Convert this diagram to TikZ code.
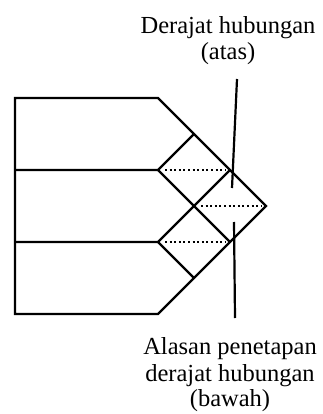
\documentclass[tikz,border=0pt]{standalone}
\usepackage{fontspec}
\setmainfont{Liberation Serif}
\begin{document}
\begin{tikzpicture}[x=1pt,y=-1pt,
  edge/.style={line width=2.2pt,line join=miter,line cap=butt},
  dotline/.style={line width=2pt,dash pattern=on 2pt off 2.6pt,shorten <=7pt,shorten >=5pt},
  pointer/.style={line width=2.2pt},
  lbl/.style={font=\fontsize{24.5}{27}\selectfont,inner sep=0pt,anchor=base}]
\useasboundingbox[fill=white] (0,0) rectangle (322,414);
% outer shape
\coordinate (tl) at (15,98);
\coordinate (tc) at (158,98);
\coordinate (apex) at (266,206);
\coordinate (bc) at (158,314);
\coordinate (bl) at (15,314);
% inner points
\coordinate (l1) at (15,170);
\coordinate (v1) at (158,170);
\coordinate (l2) at (15,242);
\coordinate (v2) at (158,242);
\coordinate (top1) at (194,134);
\coordinate (r1) at (230,170);
\coordinate (mid) at (194,206);
\coordinate (r2) at (230,242);
\coordinate (bot2) at (194,278);
\draw[edge] (tl) -- (tc) -- (apex) -- (bc) -- (bl) -- cycle;
\draw[edge] (l1) -- (v1) -- (top1);
\draw[edge] (v1) -- (r2);
\draw[edge] (l2) -- (v2) -- (r1);
\draw[edge] (v2) -- (bot2);
% dotted diagonals
\draw[dotline] (v1) -- (r1);
\draw[dotline] (mid) -- (apex);
\draw[dotline] (v2) -- (r2);
% labels
\node[lbl] (t1) at (228,34) {Derajat hubungan};
\node[lbl] (t2) at (228,60) {(atas)};
\node[lbl] (b1) at (230,354) {Alasan penetapan};
\node[lbl] (b2) at (230,381) {derajat hubungan};
\node[lbl] (b3) at (230,406) {(bawah)};
% pointer lines
\coordinate (p1a) at (237,79);
\coordinate (p1b) at (232,188);
\coordinate (p2a) at (234,222);
\coordinate (p2b) at (235,318);
\draw[pointer] (p1a) -- (p1b);
\draw[pointer] (p2a) -- (p2b);
\end{tikzpicture}
\end{document}
